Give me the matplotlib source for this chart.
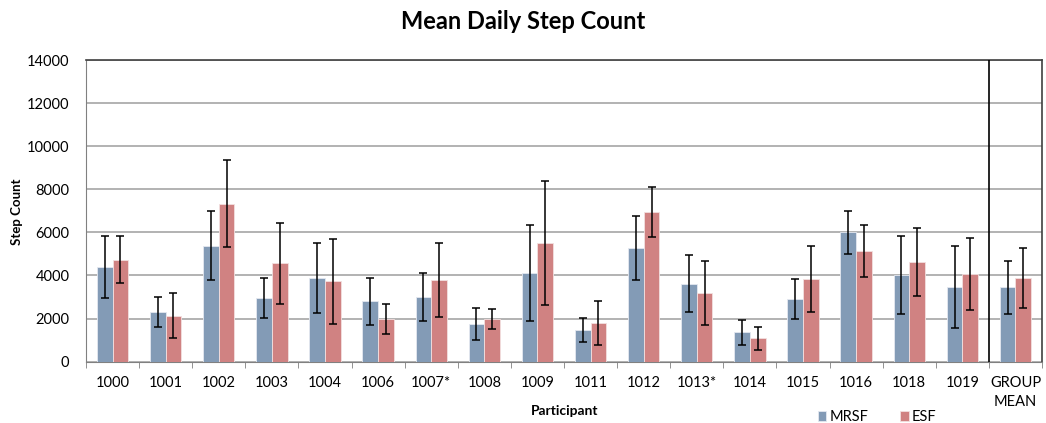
import numpy as np
import matplotlib.pyplot as plt
from matplotlib.ticker import FixedLocator

plt.rcParams["font.family"] = ["Lato", "DejaVu Sans"]

# participants and per-condition means / standard deviations
participants = ["1000", "1001", "1002", "1003", "1004", "1006", "1007*", "1008",
                "1009", "1011", "1012", "1013*", "1014", "1015", "1016", "1018",
                "1019", "GROUP\nMEAN"]
mrsf_mean = [4390, 2290, 5380, 2960, 3880, 2800, 3020, 1750,
             4120, 1470, 5280, 3620, 1360, 2910, 6000, 4010, 3450, 3450]
mrsf_sd = [1430, 700, 1600, 910, 1630, 1100, 1110, 750,
           2240, 580, 1470, 1320, 580, 940, 1010, 1820, 1910, 1240]
esf_mean = [4730, 2140, 7330, 4560, 3740, 1970, 3810, 1970,
            5510, 1800, 6950, 3190, 1080, 3840, 5120, 4630, 4070, 3880]
esf_sd = [1100, 1050, 2030, 1890, 1970, 690, 1720, 470,
          2880, 1020, 1140, 1470, 530, 1550, 1210, 1570, 1660, 1410]

blue = "#839BB6"
pink = "#D08282"

fig = plt.figure(figsize=(10.46, 4.23), dpi=100)
ax = fig.add_axes([0.0822, 0.145, 0.914, 0.713])

x = np.arange(len(participants))
w = 0.295
err_kw = dict(ecolor="black", elinewidth=1.1, capsize=2.8, capthick=1.1)
ax.bar(x - w / 2, mrsf_mean, w, yerr=mrsf_sd, color=blue, edgecolor="#E4E8F0",
       linewidth=0.6, label="MRSF", error_kw=err_kw, zorder=3)
ax.bar(x + w / 2, esf_mean, w, yerr=esf_sd, color=pink, edgecolor="#F2E0E0",
       linewidth=0.6, label="ESF", error_kw=err_kw, zorder=3)

ax.set_xlim(-0.5, len(participants) - 0.5)
ax.set_ylim(0, 14000)
ax.set_yticks(np.arange(0, 14001, 2000))
ax.yaxis.grid(True, color="#A6A6A6", linewidth=1.2, zorder=0)
ax.set_axisbelow(True)

# labels at group centres, tick marks at group boundaries
ax.set_xticks(x)
ax.set_xticklabels(participants, fontsize=10.5, linespacing=1.5)
ax.xaxis.set_minor_locator(FixedLocator(np.arange(-0.5, len(participants), 1.0)))
ax.tick_params(axis="x", which="major", length=0, pad=10)
ax.tick_params(axis="x", which="minor", length=4, color="#808080")
ax.tick_params(axis="y", length=0, pad=12, labelsize=10.5)
for lbl in ax.get_xticklabels():
    lbl.set_verticalalignment("top")

for side in ["left", "bottom"]:
    ax.spines[side].set_color("#808080")
for side in ["top", "right"]:
    ax.spines[side].set_color("#404040")
    ax.spines[side].set_linewidth(1.2)

# separator before the group mean
ax.axvline(len(participants) - 1.5, color="black", linewidth=1.2, zorder=4)

fig.text(0.016, 0.50, "Step Count", rotation=90, ha="center", va="center",
         fontsize=9.5, fontweight="bold")
fig.text(0.540, 0.028, "Participant", ha="center", va="center",
         fontsize=10, fontweight="bold")
fig.text(0.5, 0.948, "Mean Daily Step Count", ha="center", va="center",
         fontsize=17, fontweight="bold")

fig.legend(loc="center left", bbox_to_anchor=(0.776, 0.014), ncol=2, frameon=False,
           fontsize=10.5, handlelength=0.6, handleheight=0.6, handletextpad=0.2,
           columnspacing=2.2, borderaxespad=0)

fig.savefig("out.png", dpi=100)
